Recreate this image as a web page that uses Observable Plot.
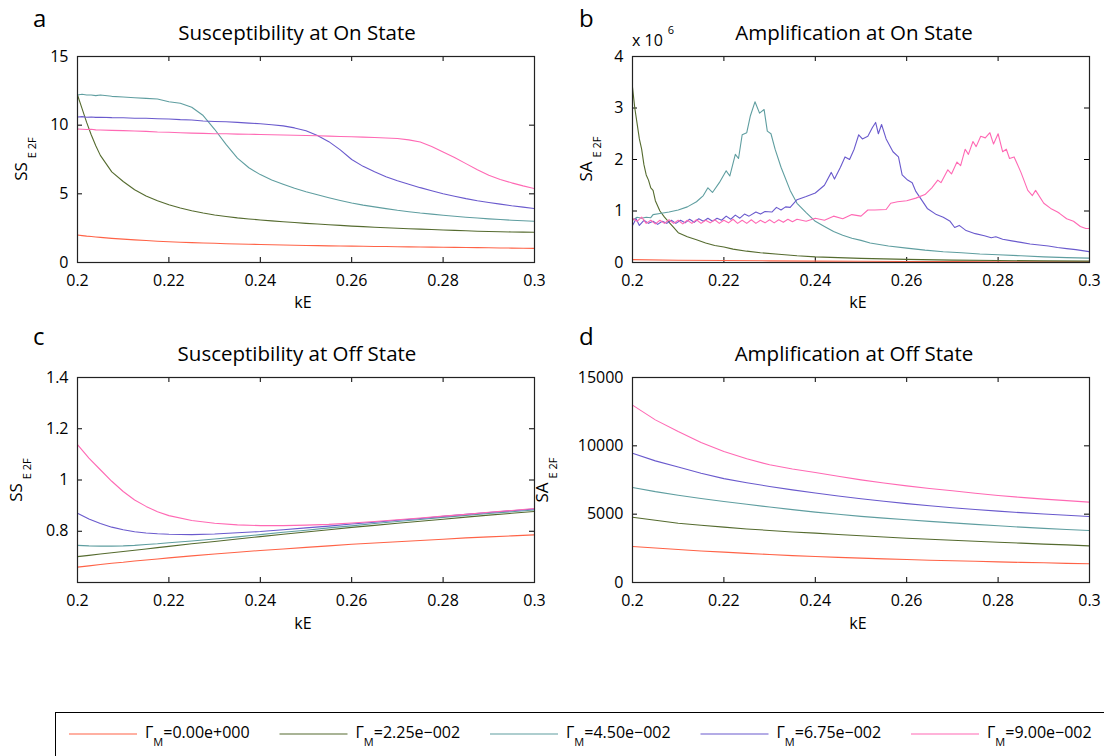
<!DOCTYPE html>
<html><head><meta charset="utf-8">
<script src="https://cdn.jsdelivr.net/npm/d3@7"></script>
<script src="https://cdn.jsdelivr.net/npm/@observablehq/plot@0.6"></script>
<style>
body{margin:0;background:#fff;}
#root{position:relative;width:1104px;height:756px;overflow:hidden;background:#fff;font-family:"Open Sans",sans-serif;}
</style></head><body><div id="root"></div>
<script>
// ---------- data ----------
const seriesLabels = ["0.00e+000","2.25e\u2212002","4.50e\u2212002","6.75e\u2212002","9.00e\u2212002"];
const seriesColors = ["#ff6347","#556b2f","#5f9ea0","#6a5acd","#ff69b4"];
const xTicks = [0.2,0.22,0.24,0.26,0.28,0.3];
const xTickLabels = ["0.2","0.22","0.24","0.26","0.28","0.3"];

// Panel a: Susceptibility at On State
const kA = [0.2,0.201,0.202,0.203,0.204,0.205,0.2075,0.21,0.2125,0.215,0.2175,0.22,0.2225,0.225,0.2275,0.23,0.2325,0.235,0.2375,0.24,0.2425,0.245,0.2475,0.25,0.2525,0.255,0.2575,0.26,0.2625,0.265,0.2675,0.27,0.2725,0.275,0.2775,0.28,0.2825,0.285,0.2875,0.29,0.2925,0.295,0.2975,0.3];
const aG0 = [2.0,1.96,1.92,1.89,1.86,1.83,1.76,1.7,1.65,1.6,1.55,1.51,1.48,1.45,1.42,1.4,1.37,1.35,1.33,1.31,1.29,1.27,1.26,1.24,1.23,1.21,1.2,1.19,1.18,1.17,1.16,1.15,1.14,1.13,1.12,1.11,1.1,1.09,1.08,1.07,1.06,1.05,1.04,1.03];
const aG1 = [12.2,11.2,10.2,9.3,8.5,7.8,6.6,5.9,5.3,4.85,4.5,4.2,3.97,3.77,3.6,3.46,3.35,3.25,3.17,3.1,3.03,2.97,2.91,2.85,2.8,2.75,2.7,2.65,2.61,2.57,2.53,2.49,2.46,2.43,2.4,2.37,2.34,2.31,2.28,2.26,2.24,2.22,2.21,2.2];
const aG2 = [12.2,12.25,12.2,12.2,12.15,12.2,12.1,12.05,12.0,11.95,11.9,11.7,11.6,11.3,10.7,9.7,8.6,7.6,6.9,6.4,6.0,5.7,5.4,5.15,4.93,4.72,4.52,4.33,4.18,4.05,3.92,3.8,3.7,3.6,3.52,3.44,3.37,3.3,3.24,3.18,3.13,3.08,3.04,3.0];
const aG3 = [10.6,10.62,10.58,10.6,10.57,10.58,10.55,10.54,10.5,10.5,10.47,10.45,10.4,10.38,10.3,10.27,10.25,10.2,10.15,10.1,10.03,9.95,9.8,9.6,9.25,8.8,8.2,7.5,7.0,6.6,6.25,5.95,5.7,5.45,5.22,5.0,4.82,4.65,4.5,4.37,4.25,4.13,4.03,3.93];
const aG4 = [9.72,9.7,9.68,9.7,9.66,9.65,9.62,9.6,9.57,9.55,9.5,9.48,9.45,9.42,9.4,9.38,9.37,9.35,9.34,9.32,9.3,9.28,9.27,9.25,9.23,9.2,9.18,9.16,9.13,9.1,9.07,9.03,8.93,8.77,8.45,8.05,7.65,7.2,6.75,6.35,6.05,5.8,5.58,5.38];

// Panel b: Amplification at On State (x 10^6)
const bG0k = [0.2,0.21,0.22,0.23,0.24,0.25,0.26,0.27,0.28,0.29,0.3];
const bG0 = [0.055,0.045,0.038,0.032,0.027,0.023,0.02,0.018,0.016,0.014,0.013];
const bG1k = [0.2,0.2005,0.201,0.2015,0.202,0.2025,0.203,0.2035,0.204,0.2045,0.205,0.206,0.207,0.208,0.209,0.21,0.212,0.214,0.216,0.218,0.22,0.222,0.225,0.228,0.232,0.236,0.24,0.245,0.25,0.255,0.26,0.27,0.28,0.29,0.3];
const bG1 = [3.4,3.0,2.7,2.4,2.2,1.9,1.7,1.6,1.45,1.4,1.2,1.0,0.88,0.78,0.68,0.58,0.5,0.44,0.38,0.33,0.3,0.26,0.22,0.19,0.16,0.13,0.11,0.095,0.08,0.07,0.06,0.047,0.038,0.032,0.027];
const bG2k = [0.2,0.201,0.202,0.203,0.204,0.2045,0.206,0.208,0.21,0.212,0.214,0.2155,0.2165,0.2175,0.219,0.2205,0.2213,0.2225,0.2232,0.224,0.225,0.2258,0.2268,0.2278,0.2288,0.2295,0.2303,0.2312,0.2325,0.2345,0.236,0.238,0.24,0.242,0.244,0.246,0.248,0.25,0.252,0.254,0.256,0.26,0.264,0.268,0.272,0.276,0.28,0.285,0.29,0.295,0.3];
const bG2 = [0.82,0.88,0.86,0.88,0.87,0.93,0.95,0.98,1.02,1.08,1.18,1.3,1.45,1.36,1.55,1.78,1.68,2.1,2.02,2.48,2.52,2.85,3.12,2.9,2.97,2.55,2.5,2.2,1.85,1.4,1.15,0.97,0.8,0.7,0.6,0.53,0.47,0.43,0.38,0.35,0.32,0.28,0.24,0.21,0.19,0.165,0.15,0.13,0.11,0.095,0.085];
const bG3k = [0.2,0.2008,0.2015,0.2025,0.2035,0.2045,0.2055,0.2065,0.2075,0.2085,0.2095,0.2105,0.2115,0.2125,0.2135,0.2145,0.2155,0.2165,0.2175,0.2185,0.2195,0.2205,0.2215,0.2225,0.2235,0.2245,0.2255,0.227,0.228,0.229,0.2305,0.2315,0.2325,0.2335,0.2345,0.236,0.238,0.24,0.242,0.2435,0.2442,0.2455,0.2465,0.2475,0.2485,0.2495,0.2503,0.2515,0.2525,0.2532,0.2538,0.2545,0.2555,0.257,0.2582,0.259,0.2602,0.2612,0.262,0.263,0.2645,0.2665,0.268,0.2695,0.2705,0.2715,0.273,0.275,0.277,0.2785,0.2795,0.281,0.283,0.285,0.287,0.289,0.291,0.293,0.295,0.297,0.3];
const bG3 = [0.72,0.85,0.72,0.82,0.76,0.8,0.74,0.8,0.76,0.82,0.76,0.82,0.77,0.84,0.78,0.85,0.8,0.86,0.8,0.86,0.82,0.9,0.84,0.92,0.86,0.94,0.9,0.98,0.94,0.99,0.98,1.07,1.02,1.08,1.07,1.22,1.28,1.35,1.5,1.75,1.62,1.85,2.05,2.0,2.2,2.48,2.4,2.45,2.62,2.72,2.5,2.68,2.4,2.15,2.05,1.7,1.6,1.55,1.38,1.25,1.05,0.93,0.88,0.8,0.68,0.72,0.62,0.56,0.52,0.48,0.5,0.45,0.42,0.39,0.36,0.34,0.32,0.29,0.27,0.25,0.21];
const bG4k = [0.2,0.201,0.202,0.203,0.204,0.205,0.206,0.207,0.208,0.209,0.21,0.211,0.212,0.213,0.214,0.215,0.216,0.217,0.218,0.219,0.22,0.221,0.222,0.223,0.224,0.225,0.226,0.227,0.228,0.229,0.23,0.231,0.232,0.233,0.234,0.235,0.236,0.238,0.24,0.242,0.244,0.246,0.248,0.25,0.2515,0.253,0.2555,0.2565,0.258,0.26,0.262,0.264,0.2655,0.2668,0.2675,0.269,0.2698,0.271,0.2718,0.2728,0.2735,0.2745,0.2752,0.2762,0.2772,0.2782,0.279,0.28,0.281,0.2818,0.2825,0.2835,0.285,0.2865,0.2875,0.2882,0.29,0.2915,0.293,0.2935,0.295,0.2965,0.298,0.2992,0.3];
const bG4 = [0.86,0.8,0.88,0.76,0.82,0.75,0.82,0.76,0.83,0.76,0.82,0.75,0.82,0.76,0.83,0.76,0.82,0.77,0.83,0.76,0.82,0.77,0.84,0.76,0.82,0.76,0.83,0.76,0.82,0.77,0.83,0.77,0.83,0.78,0.84,0.79,0.84,0.8,0.86,0.82,0.9,0.85,0.93,0.9,1.02,1.02,1.03,1.15,1.18,1.2,1.25,1.32,1.45,1.6,1.55,1.8,1.72,1.95,1.88,2.2,2.1,2.35,2.25,2.45,2.42,2.52,2.3,2.5,2.15,2.2,2.02,2.05,1.75,1.4,1.3,1.4,1.15,1.05,0.98,0.95,0.85,0.8,0.7,0.66,0.66];

// Panel c: Susceptibility at Off State
const kC = [0.2,0.2025,0.205,0.2075,0.21,0.2125,0.215,0.2175,0.22,0.225,0.23,0.235,0.24,0.245,0.25,0.255,0.26,0.265,0.27,0.275,0.28,0.285,0.29,0.295,0.3];
const cG0 = [0.660,0.665,0.670,0.675,0.679,0.684,0.688,0.692,0.696,0.704,0.711,0.718,0.725,0.731,0.737,0.743,0.749,0.754,0.759,0.764,0.769,0.774,0.778,0.782,0.786];
const cG1 = [0.701,0.706,0.711,0.716,0.721,0.726,0.731,0.736,0.741,0.751,0.760,0.770,0.779,0.788,0.797,0.806,0.815,0.823,0.831,0.839,0.847,0.855,0.863,0.870,0.877];
const cG2 = [0.745,0.743,0.742,0.742,0.743,0.745,0.748,0.751,0.755,0.762,0.770,0.778,0.787,0.796,0.804,0.813,0.821,0.830,0.838,0.846,0.854,0.862,0.869,0.876,0.883];
const cG3 = [0.870,0.848,0.830,0.816,0.806,0.798,0.793,0.790,0.788,0.787,0.789,0.794,0.799,0.806,0.813,0.820,0.828,0.835,0.843,0.850,0.858,0.866,0.873,0.880,0.887];
const cG4 = [1.138,1.085,1.040,0.995,0.955,0.922,0.897,0.876,0.861,0.842,0.831,0.825,0.822,0.822,0.824,0.827,0.832,0.838,0.845,0.852,0.859,0.866,0.874,0.881,0.889];

// Panel d: Amplification at Off State
const kD = [0.2,0.205,0.21,0.215,0.22,0.225,0.23,0.235,0.24,0.245,0.25,0.255,0.26,0.265,0.27,0.275,0.28,0.285,0.29,0.295,0.3];
const dG0 = [2630,2520,2410,2310,2220,2130,2050,1970,1900,1840,1780,1730,1680,1630,1590,1550,1510,1470,1440,1400,1370];
const dG1 = [4780,4550,4340,4190,4050,3920,3810,3700,3610,3510,3420,3330,3240,3170,3090,3020,2950,2880,2810,2750,2680];
const dG2 = [6950,6650,6390,6150,5930,5720,5520,5330,5150,4990,4840,4710,4590,4470,4360,4250,4150,4050,3960,3880,3800];
const dG3 = [9460,8900,8450,8000,7600,7300,7030,6780,6550,6330,6130,5940,5770,5620,5470,5340,5220,5110,5010,4920,4830];
const dG4 = [12980,11900,11050,10250,9590,9050,8610,8300,8050,7770,7510,7280,7070,6880,6710,6530,6370,6230,6100,5990,5880];

// ---------- drawing ----------
const FONT = '"Open Sans", sans-serif';
const root = document.getElementById("root");

function panel(cfg) {
  const W = 552, H = 320;
  const pw = W - cfg.ml - cfg.mr, ph = H - cfg.mt - cfg.mb;
  const marks = [
    Plot.axisX({ticks: xTicks, tickSize: 0, tickPadding: 12, label: null,
      tickFormat: d => xTickLabels[xTicks.indexOf(d)]}),
    Plot.axisY({ticks: cfg.yTicks, tickSize: 0, tickPadding: 9, label: null,
      tickFormat: d => cfg.yLabels[cfg.yTicks.indexOf(d)]}),
    Plot.tickX(xTicks, {x: d => d, insetTop: ph - 5, stroke: "#000"}),
    Plot.tickX(xTicks, {x: d => d, insetBottom: ph - 5, stroke: "#000"}),
    Plot.tickY(cfg.yTicks, {y: d => d, insetRight: pw - 5, stroke: "#000"}),
    Plot.tickY(cfg.yTicks, {y: d => d, insetLeft: pw - 5, stroke: "#000"})
  ];
  cfg.series.forEach((s, i) => {
    const rows = s.k.map((k, j) => ({k, v: s.v[j]}));
    marks.push(Plot.line(rows, {x: "k", y: "v", stroke: seriesColors[i], strokeWidth: 1.1, clip: true}));
  });
  marks.push(Plot.frame({stroke: "#222", strokeWidth: 1.2}));
  const svg = Plot.plot({
    width: W, height: H,
    marginLeft: cfg.ml, marginRight: cfg.mr, marginTop: cfg.mt, marginBottom: cfg.mb,
    x: {domain: [0.2, 0.3]},
    y: {domain: cfg.yDomain},
    style: {fontFamily: FONT, fontSize: "16px", color: "#000", background: "transparent", overflow: "visible", maxWidth: "none"},
    marks
  });
  svg.style.position = "absolute";
  svg.style.left = cfg.left + "px";
  svg.style.top = cfg.top + "px";
  root.append(svg);
}

panel({left: 0, top: 0, ml: 77, mr: 18, mt: 56, mb: 58, yDomain: [0, 15],
  yTicks: [0, 5, 10, 15], yLabels: ["0", "5", "10", "15"],
  series: [{k: kA, v: aG0}, {k: kA, v: aG1}, {k: kA, v: aG2}, {k: kA, v: aG3}, {k: kA, v: aG4}]});
panel({left: 552, top: 0, ml: 80, mr: 15, mt: 56, mb: 58, yDomain: [0, 4],
  yTicks: [0, 1, 2, 3, 4], yLabels: ["0", "1", "2", "3", "4"],
  series: [{k: bG0k, v: bG0}, {k: bG1k, v: bG1}, {k: bG2k, v: bG2}, {k: bG3k, v: bG3}, {k: bG4k, v: bG4}]});
panel({left: 0, top: 320, ml: 77, mr: 18, mt: 57, mb: 58, yDomain: [0.6, 1.4],
  yTicks: [0.8, 1, 1.2, 1.4], yLabels: ["0.8", "1", "1.2", "1.4"],
  series: [{k: kC, v: cG0}, {k: kC, v: cG1}, {k: kC, v: cG2}, {k: kC, v: cG3}, {k: kC, v: cG4}]});
panel({left: 552, top: 320, ml: 80, mr: 15, mt: 57, mb: 58, yDomain: [0, 15000],
  yTicks: [0, 5000, 10000, 15000], yLabels: ["0", "5000", "10000", "15000"],
  series: [{k: kD, v: dG0}, {k: kD, v: dG1}, {k: kD, v: dG2}, {k: kD, v: dG3}, {k: kD, v: dG4}]});

// ---------- annotations overlay ----------
const ov = d3.select(root).append("svg")
  .attr("width", 1104).attr("height", 756)
  .style("position", "absolute").style("left", "0px").style("top", "0px")
  .style("pointer-events", "none")
  .style("font-family", FONT).style("fill", "#000");

const titles = [
  {t: "a", x: 33, y: 27, title: "Susceptibility at On State", tx: 297, ty: 40, lab: "SS", lx: 27, ly: 159, kx: 303, ky: 308},
  {t: "b", x: 579, y: 27, title: "Amplification at On State", tx: 854, ty: 40, lab: "SA", lx: 592, ly: 159, kx: 858, ky: 308},
  {t: "c", x: 33, y: 345, title: "Susceptibility at Off State", tx: 297, ty: 361, lab: "SS", lx: 22, ly: 480, kx: 303, ky: 629},
  {t: "d", x: 579, y: 345, title: "Amplification at Off State", tx: 854, ty: 361, lab: "SA", lx: 548, ly: 480, kx: 858, ky: 629}
];
titles.forEach(p => {
  ov.append("text").attr("x", p.x).attr("y", p.y).attr("font-size", 24).text(p.t);
  ov.append("text").attr("x", p.tx).attr("y", p.ty).attr("font-size", 20.5).attr("text-anchor", "middle").text(p.title);
  ov.append("text").attr("x", p.kx).attr("y", p.ky).attr("font-size", 16).attr("text-anchor", "middle").text("kE");
  const yl = ov.append("text").attr("transform", `translate(${p.lx},${p.ly}) rotate(-90)`)
    .attr("text-anchor", "middle").attr("font-size", 17);
  yl.append("tspan").text(p.lab);
  yl.append("tspan").attr("font-size", 11).attr("dy", 9).attr("dx", 4).text("E 2F");
});
// x 10^6 multiplier
const mult = ov.append("text").attr("x", 632).attr("y", 46).attr("font-size", 16);
mult.append("tspan").text("x 10");
mult.append("tspan").attr("font-size", 11).attr("dy", -12).attr("dx", 5).text("6");

// ---------- legend ----------
ov.append("rect").attr("x", 55.5).attr("y", 712.5).attr("width", 1100).attr("height", 100)
  .attr("fill", "none").attr("stroke", "#000").attr("stroke-width", 1);
seriesLabels.forEach((lab, i) => {
  const x0 = 69 + i * 210.5;
  ov.append("line").attr("x1", x0).attr("x2", x0 + 68).attr("y1", 734).attr("y2", 734)
    .attr("stroke", seriesColors[i]).attr("stroke-width", 1.2);
  const t = ov.append("text").attr("x", x0 + 76).attr("y", 738).attr("font-size", 16);
  t.append("tspan").text("\u0393");
  t.append("tspan").attr("font-size", 11).attr("dy", 8).text("M");
  t.append("tspan").attr("dy", -8).text("=" + lab);
});
</script></body></html>
